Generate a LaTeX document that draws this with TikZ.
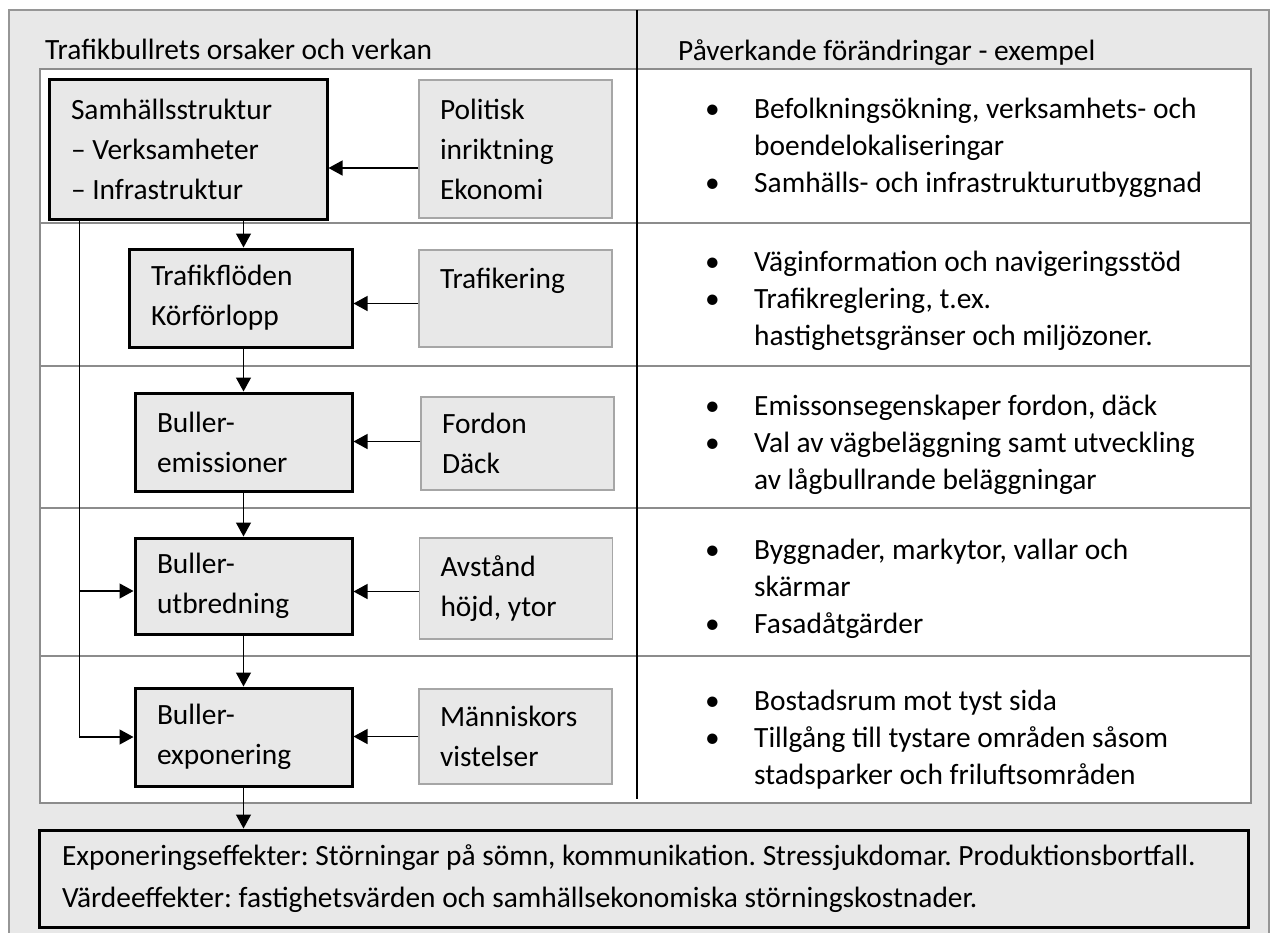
\documentclass[tikz,border=0pt]{standalone}
\usepackage{fontspec}
\setmainfont{Carlito}
\usetikzlibrary{arrows.meta,positioning}
\definecolor{bggray}{RGB}{232,232,232}
\definecolor{framegray}{RGB}{150,150,150}
\definecolor{tablegray}{RGB}{140,140,140}
\definecolor{sidegray}{RGB}{166,166,166}
\frenchspacing
\newcommand\boxfont{\fontsize{29.4pt}{40pt}\selectfont}
\newcommand\listfont{\fontsize{29.4pt}{37pt}\selectfont}
\newcommand\lstbul{\makebox[49pt][l]{\textbullet}}
\newcommand\lstind{\hspace*{49pt}}
\tikzset{
  mainbox/.style={draw,line width=3pt,fill=bggray,inner xsep=22pt,
                  inner ysep=0pt,align=flush left,text width=#1,font=\boxfont},
  sidebox/.style={draw=sidegray,line width=1.5pt,fill=bggray,inner xsep=21pt,
                  inner ysep=0pt,align=flush left,text width=151pt,font=\boxfont},
  arrow/.style={-{Triangle[length=14pt,width=15pt]},line width=1.3pt},
  bullets/.style={anchor=west,inner sep=0pt,align=flush left,font=\listfont},
  heading/.style={anchor=base west,inner sep=0pt,font=\boxfont},
}

\begin{document}
\begin{tikzpicture}[x=1pt,y=-1pt]
    \useasboundingbox (0,0) rectangle (1271,932);

    % frame and table
    \draw[framegray,line width=2pt,fill=bggray] (9,10) rectangle (1269,950);
    \node[heading] (t1) at (45,59) {Trafikbullrets orsaker och verkan};
    \node[heading] (t2) at (678,60) {Påverkande förändringar - exempel};
    \draw[tablegray,line width=1.5pt,fill=white] (40,69) rectangle (1251,803);
    \foreach \y in {223,366,508,656}
      \draw[tablegray,line width=1.5pt] (40,\y) -- (1251,\y);
    \draw[line width=1.3pt] (637,10) -- (637,799);

    % left column: chain
    \node[mainbox=234pt,minimum height=140pt] (b1) at (188,149)
        {Samhällsstruktur\\– Verksamheter\\– Infrastruktur};
    \node[mainbox=179pt,minimum height=98pt] (b2) at (240.5,298)
        {Trafikflöden\\Körförlopp};
    \node[mainbox=173pt,minimum height=98pt] (b3) at (243.5,442)
        {Buller-\\emissioner};
    \node[mainbox=173pt,minimum height=96pt] (b4) at (243.5,586)
        {Buller-\\utbredning};
    \node[mainbox=173pt,minimum height=98pt] (b5) at (243.5,737)
        {Buller-\\exponering};

    \node[sidebox,minimum height=138pt] (p1) at (515.5,149)
        {Politisk\\inriktning\\Ekonomi};
    \node[sidebox,minimum height=97pt] (p2) at (515.5,298.5)
        {Trafikering\\\mbox{}};
    \node[sidebox,minimum height=93pt] (p3) at (517.5,443.5)
        {Fordon\\Däck};
    \node[sidebox,minimum height=101pt] (p4) at (516,588.5)
        {Avstånd\\höjd, ytor};
    \node[sidebox,minimum height=95pt] (p5) at (515.5,736.5)
        {Människors\\vistelser};

    \node[mainbox=1163pt,inner xsep=23pt,minimum height=97pt,
          font=\fontsize{29.4pt}{42pt}\selectfont] (eff) at (643.5,878.5)
        {Exponeringseffekter: Störningar på sömn, kommunikation. Stressjukdomar. Produktionsbortfall.\\
         Värdeeffekter: fastighetsvärden och samhällsekonomiska störningskostnader.};

    % connectors
    \draw[arrow] ([yshift=-19pt]p1.west) -- ([yshift=-19pt]p1.west -| b1.east);
    \draw[arrow] ([yshift=-5pt]p2.west) -- ([yshift=-5pt]p2.west -| b2.east);
    \draw[arrow] ([yshift=2pt]p3.west) -- ([yshift=2pt]p3.west -| b3.east);
    \draw[arrow] ([yshift=-3pt]p4.west) -- ([yshift=-3pt]p4.west -| b4.east);
    \draw[arrow] (p5.west) -- (p5.west -| b5.east);

    \draw[arrow] (b1.south -| b3.north) -- (b2.north -| b3.north);
    \draw[arrow] (b2.south -| b3.north) -- (b3.north);
    \draw[arrow] (b3) -- (b4);
    \draw[arrow] (b4) -- (b5);
    \draw[arrow] (b5) -- (eff.north -| b5);

    \coordinate (fb) at ([xshift=32pt]b1.south west);
    \draw[arrow] (fb) -- (fb |- b5.west) -- (b5.west);
    \draw[arrow] ([yshift=-5pt]fb |- b4.west) -- ([yshift=-5pt]b4.west);

    % right column: examples
    \node[bullets] (e1) at (705,148)
        {\lstbul Befolkningsökning, verksamhets- och\\
         \lstind boendelokaliseringar\\
         \lstbul Samhälls- och infrastrukturutbyggnad};
    \node[bullets] (e2) at (705,301)
        {\lstbul Väginformation och navigeringsstöd\\
         \lstbul Trafikreglering, t.ex.\\
         \lstind hastighetsgränser och miljözoner.};
    \node[bullets] (e3) at (705,445)
        {\lstbul Emissonsegenskaper fordon, däck\\
         \lstbul Val av vägbeläggning samt utveckling\\
         \lstind av lågbullrande beläggningar};
    \node[bullets] (e4) at (705,589)
        {\lstbul Byggnader, markytor, vallar och\\
         \lstind skärmar\\
         \lstbul Fasadåtgärder};
    \node[bullets] (e5) at (705,740)
        {\lstbul Bostadsrum mot tyst sida\\
         \lstbul Tillgång till tystare områden såsom\\
         \lstind stadsparker och friluftsområden};

  \end{tikzpicture}
\end{document}
